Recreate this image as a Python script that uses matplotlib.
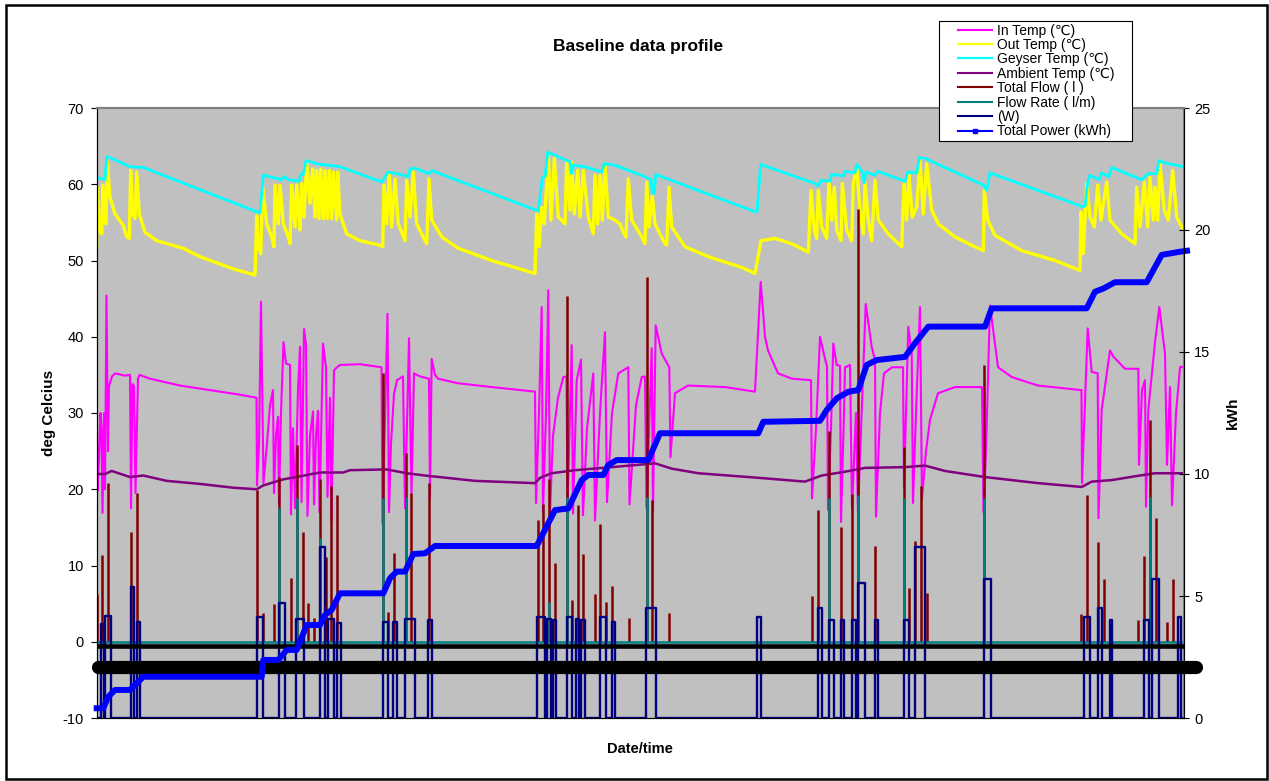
import matplotlib
matplotlib.use("Agg")
import matplotlib.pyplot as plt
from matplotlib.lines import Line2D
from matplotlib.patches import Rectangle

plt.rcParams['font.family'] = ['Liberation Sans', 'DejaVu Sans']
plt.rcParams['axes.unicode_minus'] = False

# sample time (arbitrary units, no tick labels on the time axis)
geyser_t = [96.7, 105, 106.7, 110, 130, 143.3, 256.7, 260, 263.3, 281.7, 284, 288.3, 299, 300.7, 303.3,
            306, 320, 328.3, 340, 381.7, 388.3, 396.7, 408.3, 410, 415, 429, 431.7, 538.3, 542.3, 545,
            547.7, 551.7, 570.3, 571.7, 573.3, 585, 601.7, 604, 615, 645, 651, 652.3, 654.3, 655.7,
            671.7, 755, 757, 760.7, 815, 818.3, 821, 830, 831.7, 843.3, 845, 855, 856.7, 861.7, 864.3,
            865.7, 875, 877.7, 905, 907.7, 916.7, 919.3, 925, 983.3, 986.7, 990, 1081.7, 1085, 1087.7,
            1090, 1099, 1101.7, 1109, 1111.7, 1141.7, 1148.3, 1156.7, 1159, 1165, 1184]
geyser_v = [60.9, 60.6, 63.6, 63.5, 62.3, 62.2, 56.4, 56.3, 61.2, 60.6, 61.0, 60.6, 60.4, 61.3, 61.3,
            63.1, 62.6, 62.5, 62.3, 60.3, 61.6, 61.4, 61.0, 62.0, 62.1, 61.4, 61.8, 56.5, 60.9, 61.0,
            64.2, 64.0, 62.9, 61.4, 62.5, 62.3, 61.6, 62.7, 62.5, 61.0, 60.6, 58.8, 58.8, 61.3,
            60.5, 56.4, 56.4, 62.6, 60.1, 59.8, 60.5, 60.4, 61.3, 61.1, 61.7, 61.5, 62.6, 61.8, 60.2,
            61.6, 61.2, 61.7, 60.4, 61.6, 61.5, 63.5, 63.4, 59.9, 59.2, 61.5, 57.1, 57.1, 60.3,
            61.2, 60.6, 61.5, 61.0, 62.2, 60.6, 61.4, 61.4, 63.1, 62.8, 62.3]

out_t = [96.7, 97.3, 99.3, 101.7, 102.7, 104.3, 106, 107.3, 110, 115, 123.3, 126.7, 129.3, 130.7, 132.7,
         135, 136.7, 139.3, 145, 156.7, 183.3, 200, 233.3, 255, 256.7, 258.3, 260.7, 262.7, 266.7,
         271.7, 274, 275, 278.3, 280, 283.3, 288.3, 290, 291.7, 295, 296.7, 300, 301.7, 304, 306.7,
         310, 312.7, 315, 316.7, 319, 320.7, 323.3, 325, 327.3, 329.3, 331.7, 333.3, 336.7, 337.7,
         340, 346.7, 360, 380, 382.7, 384, 386.7, 389.3, 391.7, 395, 398.3, 405, 406.7, 410, 413.3,
         416.7, 426.7, 429, 431.7, 441.7, 458.3, 491.7, 525, 535, 536.7, 539, 541.7, 544.3, 548.3,
         551, 554.3, 558.3, 561.7, 565, 566.7, 570, 571.7, 574.3, 577.7, 580, 583.3, 588.3, 593.3,
         595, 597.7, 600, 602.3, 605, 608.3, 615, 620, 623.3, 626, 628.3, 631.7, 641.7, 645, 646.7,
         649, 652.3, 655, 665, 666.7, 669, 671.7, 685, 708.3, 741.7, 755, 761, 775, 791.7, 808.3,
         811, 814.3, 816.7, 818.3, 821.7, 826.7, 829, 831.7, 834.3, 836.7, 841, 842.3, 846.7, 851.7,
         853.3, 856.7, 860, 863.3, 865, 868.3, 871.7, 875, 878.3, 888.3, 901.7, 904, 906.7, 909,
         912.3, 916.7, 920, 923.3, 926.7, 931.7, 938.3, 955, 971.7, 983.3, 984.3, 987.7, 995,
         1021.7, 1055, 1080, 1081, 1083.3, 1086.7, 1090, 1094.3, 1097.7, 1101, 1106.7, 1110, 1121.7,
         1135, 1136.7, 1140, 1144.3, 1147.7, 1150, 1153.3, 1155, 1157.7, 1160, 1164.3, 1168.3,
         1172.7, 1176.7, 1181.7, 1184]
out_v = [51.8, 59.6, 54.0, 53.5, 59.9, 55.0, 54.8, 62.9, 58.3, 56.1, 54.6, 53.1, 52.9, 61.8, 56.1,
         55.5, 61.6, 56.1, 53.7, 52.6, 51.6, 50.5, 48.9, 48.1, 55.9, 51.8, 50.9, 59.6, 54.8,
         53.1, 51.8, 59.9, 54.8, 59.9, 54.8, 53.1, 52.2, 59.9, 54.4, 59.9, 54.0, 60.1, 55.7, 62.9,
         57.5, 62.0, 55.7, 61.8, 55.5, 62.0, 55.5, 61.8, 55.5, 61.8, 55.5, 61.6, 55.3, 61.6,
         56.1, 53.5, 52.6, 52.0, 51.8, 59.9, 54.8, 61.6, 54.4, 60.7, 54.8, 52.6, 60.5, 55.7, 61.6,
         54.8, 52.2, 60.7, 55.3, 53.1, 51.6, 50.0, 48.7, 48.3, 56.1, 51.8, 57.0, 54.8, 63.8,
         55.3, 63.4, 55.7, 55.3, 54.8, 62.9, 56.6, 62.9, 56.1, 61.8, 55.7, 61.8, 55.7, 53.5,
         61.2, 54.8, 61.2, 55.3, 62.7, 55.7, 55.3, 54.8, 53.7, 53.1, 60.7, 55.3, 53.1, 52.2, 60.3,
         54.4, 58.5, 54.8, 52.2, 52.0, 59.6, 54.4, 51.8, 50.5, 49.1, 48.3, 52.6, 52.9, 52.2, 51.1,
         59.2, 54.0, 52.9, 59.2, 54.4, 52.9, 60.3, 55.3, 59.6, 54.0, 52.6, 60.1, 54.0, 52.6,
         60.1, 62.3, 56.6, 53.5, 60.3, 55.3, 52.6, 60.5, 55.3, 53.5, 51.8, 60.1, 55.3, 61.2,
         55.7, 57.0, 63.1, 56.1, 62.7, 56.6, 54.8, 53.1, 52.0, 51.3, 59.2, 55.3, 53.3,
         51.3, 50.0, 48.7, 56.4, 50.9, 60.1, 55.7, 54.4, 59.9, 55.3, 60.3, 55.3, 53.5,
         52.2, 59.6, 54.4, 60.3, 54.4, 60.9, 55.3, 59.6, 55.3, 62.7, 56.6, 55.3,
         61.8, 55.7, 54.4, 54.0]

in_t = [96.7, 97.5, 99, 100.5, 101.5, 102.5, 104, 105, 106.5, 108, 109, 112, 115, 125, 130, 131, 132.5,
        134, 135.5, 138, 139.5, 150, 180, 210, 240, 256.5, 257, 259, 261, 262.5, 263.5, 267, 270, 273,
        274, 276, 278, 279, 281, 283.5, 286, 290, 291, 293, 295, 298, 300, 301.5, 304, 306, 307.5,
        310, 313, 314, 316, 318, 319.5, 323, 326, 327.5, 330, 331.5, 334, 337, 340, 360, 381.5,
        382.5, 387.5, 389, 391, 394, 397, 403, 405, 409, 411.5, 414, 420, 429, 430, 431.7, 435, 438,
        458, 492, 535, 536, 539, 541.7, 543, 546, 548.3, 550, 553, 558, 563.3, 566.5, 567.5, 571.7,
        573, 576.7, 581, 583, 587, 593.3, 595, 600, 605, 607, 612, 618.3, 628.3, 629.5, 636, 641.7,
        645, 646.5, 651.7, 653, 655.7, 661.7, 669.3, 670.5, 675, 688, 725, 755, 760.7, 765, 768,
        778, 792, 811, 812, 816, 820, 825, 827, 828, 831, 833.3, 836.7, 840, 841, 844, 845, 850,
        852, 856, 858, 865.7, 871.7, 875, 876, 880, 884, 892, 903, 904, 908.3, 911.7, 913, 916,
        920, 922, 926, 930, 938, 955, 982, 983.5, 986, 990, 998, 1012, 1038, 1081.5, 1082, 1087.7,
        1091.7, 1097.7, 1098.5, 1101.7, 1110, 1113.3, 1125, 1138.3, 1139, 1142, 1145, 1146, 1148.3,
        1155, 1159.3, 1165, 1167, 1170, 1172, 1176, 1180, 1184]
in_v = [35.8, 19.8, 24, 30.0, 28, 16.9, 30, 20, 45.4, 25, 33.5, 34.8, 35.2, 34.9, 35.0, 17.5, 33.8,
        33.5, 19.5, 34.5, 35.0, 34.5, 33.6, 33.0, 32.4, 32.0, 20.5, 26, 44.6, 30, 20.8, 26, 31, 33.0,
        19.5, 27, 29.5, 18, 30, 39.3, 36.5, 36.3, 16.7, 28, 17.5, 33, 38.7, 18.3, 41.0, 39.0, 16.5,
        27, 30.2, 18, 27, 30.3, 17, 39.1, 36, 19, 32, 15.8, 35.6, 36.0, 36.3, 36.4, 36.0,
        15.5, 43.0, 17, 26, 32.5, 34.3, 34.8, 17.5, 39.8, 19.5, 35.2, 34.8, 34.5, 18.8, 37.1, 35, 34.5,
        33.9, 33.4, 32.8, 18.2, 30, 43.9, 17, 30, 46.1, 17, 27, 32, 34.7, 34.8, 17.5, 38.9,
        16.8, 34.3, 37.0, 16.6, 28, 35.2, 15.9, 30, 40.6, 18.3, 30, 35.2, 36.0, 18, 31, 34.7,
        34.8, 17.5, 38.5, 17, 41.5, 37.8, 36.0, 24.2, 32.6, 33.6, 33.4, 32.8, 47.2, 40, 38.2,
        35.2, 34.5, 34.3, 18.8, 28, 40.0, 37.1, 36.1, 17.3, 28, 39.1, 36.3, 36.2, 15.7, 30, 36.0, 36.3,
        17.5, 30, 17, 44.3, 38.7, 36.9, 16.4, 30, 35.2, 36.0, 36.0, 20.3, 41.3, 37.8, 18.2, 30,
        43.9, 18.8, 25, 29.1, 32.6, 33.4, 33.4, 17, 25, 44.1, 36.0, 34.7, 33.6, 33.0, 20.8, 41.1,
        35.4, 35.2, 16.2, 30.4, 38.2, 37.4, 35.8, 35.8, 23.2, 33, 34.3, 17.7, 30.4,
        39.3, 43.9, 37.8, 23.2, 33.4, 17.9, 30, 36.0, 36.1]

amb_t = [96.7, 105, 111.7, 130, 143.3, 166.7, 200, 233.3, 256.7, 263.3, 283.3, 300, 320, 343.3, 350, 386.7,
         406.7, 425, 475, 535, 540, 551.7, 575, 611.7, 655, 671.7, 698.3, 758.3, 805, 821.7, 845,
         865, 905, 925, 945, 985, 1038.3, 1081.7, 1091.7, 1111.7, 1135, 1155, 1184]
amb_v = [22.0, 22.0, 22.4, 21.6, 21.8, 21.1, 20.7, 20.2, 20.0, 20.5, 21.3, 21.7, 22.2, 22.2, 22.5, 22.6,
         22.1, 21.8, 21.1, 20.8, 21.5, 22.1, 22.5, 22.9, 23.4, 22.7, 22.1, 21.5, 21.0, 21.8, 22.3,
         22.8, 22.9, 23.1, 22.4, 21.6, 20.8, 20.3, 21.0, 21.2, 21.7, 22.1, 22.1]

flow_t = [96.7, 102, 107.7, 131, 136.7, 257.3, 262.7, 274, 279.3, 291, 296.7, 302.7, 308.3, 314, 320,
          325.7, 331, 336.7, 382.7, 388.3, 394.3, 406, 411, 429, 537.7, 543.3, 549, 555, 566.7, 571.7,
          577.7, 583.3, 595, 600, 606, 611.7, 629, 646.7, 652.3, 669, 812.3, 817.7, 829.3, 841,
          852.3, 857.7, 875, 904, 909.3, 915, 921, 927, 984.3, 1081, 1087, 1098.3, 1104, 1138.3,
          1143.7, 1150, 1156, 1166.7, 1172.7]
flow_v = [6.3, 11.4, 20.8, 14.4, 19.5, 19.9, 3.8, 5.0, 21.6, 8.3, 25.8, 14.4, 5.1, 3.1, 21.4,
          11.1, 20.4, 19.3, 35.2, 3.9, 11.6, 24.8, 19.5, 20.8, 16.0, 18.1, 21.4, 10.3, 45.4, 5.5,
          17.9, 11.5, 6.3, 15.5, 5.2, 7.3, 3.1, 47.8, 18.6, 3.8, 6.0, 17.3, 27.7, 15.1,
          19.4, 56.8, 12.5, 25.6, 7.1, 13.2, 20.4, 6.4, 36.3, 3.7, 19.2, 13.1, 8.2, 2.9,
          11.2, 29.1, 16.2, 2.6, 8.2]

rate_t = [279.3, 296.7, 320, 382.7, 406, 549, 566.7, 646.7, 829.3, 857.7, 904, 984.3, 1150]
rate_v = [17.5, 18.8, 13.6, 18.8, 19.0, 5.2, 19.0, 19.0, 18.8, 19.2, 18.8, 18.9, 19.0]

# (W) trace: on/off periods and the level reached while on
w_start = [101.5, 105.5, 131, 136.5, 256.5, 279, 296, 319.5, 328, 336.5, 382.5, 393, 405, 428, 536.5,
           547, 553, 566.5, 575.5, 581, 600, 612, 646, 756.5, 817.5, 829, 841, 852, 858, 875, 904,
           915, 984, 1084, 1098, 1110, 1144, 1151.5, 1177.5]
w_end = [104, 111.5, 133.5, 140, 263, 284.5, 304, 325, 333.5, 340.5, 388, 397, 415, 432, 545,
         551, 556, 572, 579, 585, 605.5, 614.5, 656, 761, 822, 833.5, 844, 856, 865, 878, 908.5,
         925, 990.5, 1090, 1102, 1112, 1149, 1158.5, 1180.5]
w_top = [2.3, 3.4, 7.2, 2.6, 3.3, 5.1, 3.0, 12.4, 3.0, 2.5, 2.6, 2.6, 3.0, 2.8, 3.3,
         3.0, 2.8, 3.3, 3.0, 2.8, 3.3, 2.6, 4.4, 3.3, 4.4, 2.8, 2.8, 2.8, 7.7, 2.8, 2.8,
         12.4, 8.2, 3.3, 4.4, 2.8, 2.8, 8.2, 3.3]
w_off = -10

power_t = [96.7, 103.3, 108.3, 115, 130, 136.7, 143.3, 261.7, 263.3, 278.3, 286.7, 296.7, 306.7, 320,
           325, 331.7, 340, 383.3, 390, 396.7, 405, 413.3, 425, 435, 536.7, 555, 568.3, 581.7, 588.3,
           603.3, 608.3, 616.7, 648.3, 660, 758.3, 763.3, 820, 826.7, 836.7, 848.3, 858.3, 866.7,
           876.7, 905, 915, 928.3, 985, 991.7, 1086.7, 1095, 1103.3, 1115, 1146.7, 1161.7, 1180, 1187]
power_kwh = [0.40, 0.40, 0.87, 1.15, 1.15, 1.42, 1.69, 1.69, 2.38, 2.38, 2.79, 2.79, 3.81, 3.81,
             4.22, 4.43, 5.11, 5.11, 5.73, 6.0, 6.0, 6.72, 6.75, 7.05, 7.05, 8.52, 8.59, 9.75, 9.96,
             9.96, 10.37, 10.57, 10.57, 11.67, 11.67, 12.14, 12.18, 12.62, 13.1, 13.37, 13.44, 14.47,
             14.67, 14.8, 15.36, 16.04, 16.04, 16.79, 16.79, 17.47, 17.6, 17.86, 17.86, 18.98, 19.11, 19.15]

band_thin = -0.5
band_thick = -3.25
t0, t1 = 96.7, 1184

labels = ['In Temp (\u2103)', 'Out Temp (\u2103)', 'Geyser Temp (\u2103)', 'Ambient Temp (\u2103)',
          'Total Flow ( l )', 'Flow Rate ( l/m)', '(W)', 'Total Power (kWh)']
colors = ['#FF00FF', '#FFFF00', '#00FFFF', '#800080', '#800000', '#008080', '#000080', '#0000FF']

W, H = 1269, 781
fig = plt.figure(figsize=(W / 100, H / 100), dpi=100)
ax = fig.add_axes([96.7 / W, 1 - 718 / H, (1184 - 96.7) / W, (718 - 108) / H])
ax.set_facecolor('#C0C0C0')

ax.plot(in_t, in_v, color=colors[0], lw=1.5)
ax.plot(out_t, out_v, color=colors[1], lw=2.4)
ax.plot(geyser_t, geyser_v, color=colors[2], lw=2.0)
ax.plot(amb_t, amb_v, color=colors[3], lw=1.8)
ax.vlines(flow_t, 0, flow_v, color=colors[4], lw=1.8)
ax.plot([t0, t1], [0, 0], color=colors[5], lw=1.8)
ax.vlines(rate_t, 0, rate_v, color=colors[5], lw=1.8)

wx, wy = [t0], [w_off]
for s, e, top in zip(w_start, w_end, w_top):
    wx += [s, s, e, e]
    wy += [w_off, top, top, w_off]
wx.append(t1)
wy.append(w_off)
ax.plot(wx, wy, color=colors[6], lw=1.7)

ax.plot([t0, t1], [band_thin, band_thin], color='black', lw=3.3, zorder=5)
ax.plot([t0 + 1, t1 + 11.5], [band_thick, band_thick], color='black', lw=9.5,
        solid_capstyle='round', clip_on=False, zorder=5)

ax.set_xlim(t0, t1)
ax.set_ylim(-10, 70)
ax.set_yticks(range(-10, 71, 10))
ax.set_xticks([])
ax.tick_params(axis='y', direction='out', length=4.3, width=0.8, labelsize=10.5, pad=5)
for s in ['top', 'right']:
    ax.spines[s].set_color('#808080')
    ax.spines[s].set_linewidth(1.5)
ax.spines['left'].set_color('black')
ax.spines['bottom'].set_color('black')
ax.set_ylabel('deg Celcius', fontsize=11, fontweight='bold', labelpad=5)
ax.set_xlabel('Date/time', fontsize=10.5, fontweight='bold', labelpad=17)

ax2 = ax.twinx()
ax2.plot(power_t, power_kwh, color=colors[7], lw=4.3, clip_on=False)
ax2.set_ylim(0, 25)
ax2.set_yticks(range(0, 26, 5))
ax2.tick_params(axis='y', direction='inout', length=6.5, width=0.8, labelsize=10.5, pad=4)
ax2.spines['right'].set_color('black')
ax2.spines['top'].set_color('#808080')
ax2.spines['top'].set_linewidth(1.5)
ax2.set_ylabel('kWh', fontsize=11, fontweight='bold', labelpad=11)

fig.text(638 / W, 1 - 46 / H, 'Baseline data profile', ha='center', va='center',
         fontsize=12.5, fontweight='bold')

# legend box
fig.patches.append(Rectangle((939 / W, 1 - 141 / H), (1132 - 939) / W, (141 - 21) / H,
                             transform=fig.transFigure, facecolor='white', edgecolor='black',
                             lw=0.8, zorder=4))
handles = [Line2D([], [], color=c, lw=1.5) for c in colors[:-1]]
handles.append(Line2D([], [], color=colors[-1], lw=1.5, marker='s', markersize=3))
fig.legend(handles, labels, loc='upper left', bbox_to_anchor=(958 / W, 1 - 23.5 / H),
           frameon=False, fontsize=10, borderpad=0, borderaxespad=0, labelspacing=0.03,
           handlelength=2.45, handletextpad=0.36, numpoints=1)

# outer chart border
fig.patches.append(Rectangle((5.5 / W, 1 - 779 / H), (1266.5 - 5.5) / W, (779 - 5) / H,
                             transform=fig.transFigure, facecolor='none', edgecolor='black',
                             lw=1.8, zorder=6))

fig.savefig('out.png', dpi=100)
